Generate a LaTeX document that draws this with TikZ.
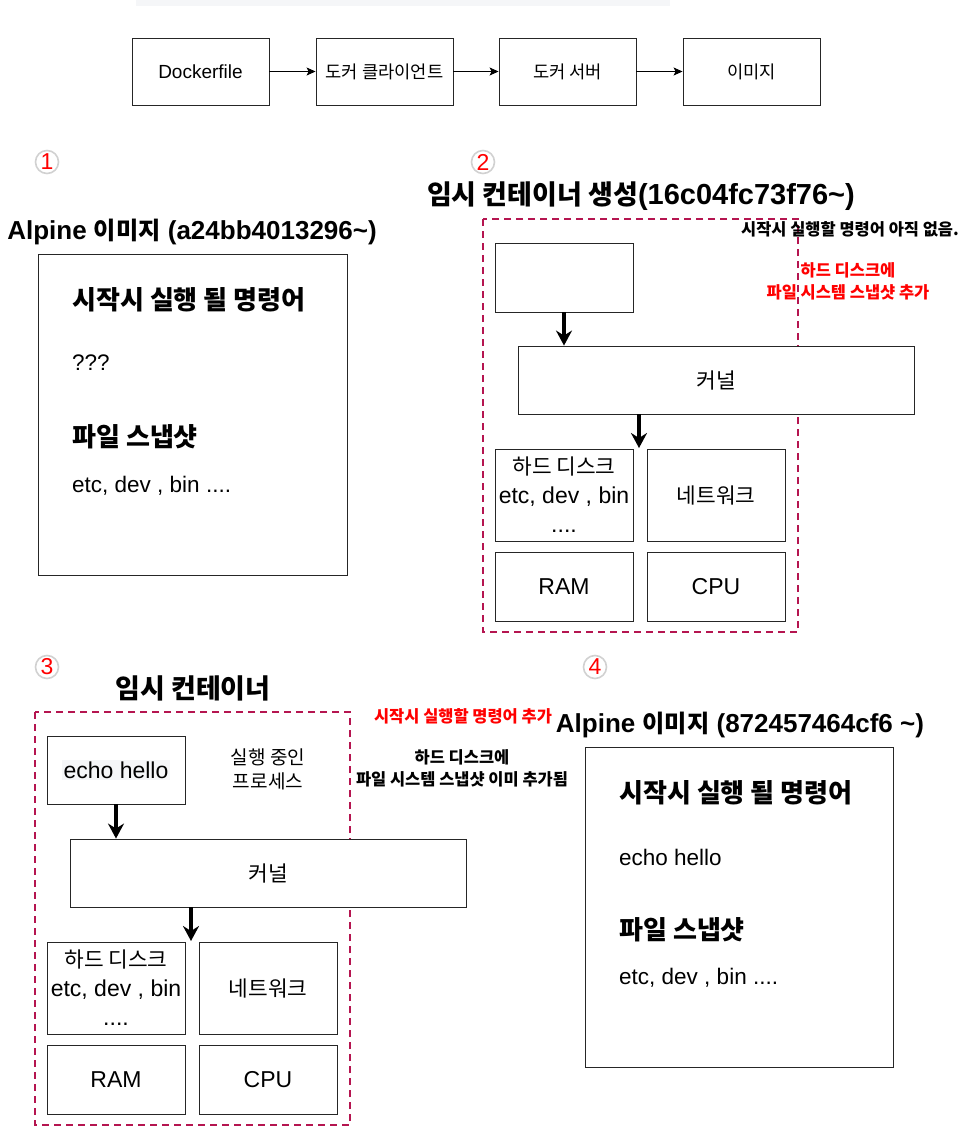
\documentclass[tikz,border=0pt]{standalone}
\usepackage{fontspec}
\setmainfont{Liberation Sans}
\newfontfamily\krf{Noto Sans CJK KR}[Scale=0.93]
\newcommand\K[1]{{\krf #1}}
\newcommand\fz[2]{\fontsize{#1}{#2}\selectfont}
\usetikzlibrary{arrows.meta}
\definecolor{crim}{RGB}{181,21,80}
\definecolor{redt}{RGB}{255,0,0}
\definecolor{topbar}{RGB}{245,246,248}
\tikzset{
  bx/.style={draw=black!85, line width=0.9pt, fill=white, align=center, inner sep=0pt, font=\fz{23}{29}},
  topbx/.style={bx, minimum width=137pt, minimum height=67pt, font=\fz{19}{22}},
  smallbx/.style={bx, minimum width=138pt},
  dbx/.style={draw=crim, line width=1.6pt, dash pattern=on 7pt off 5pt},
  thk/.style={line width=3.2pt, -{Stealth[length=15pt,width=16pt,inset=5pt]}},
  thn/.style={line width=1pt, -{Stealth[length=9pt,width=8pt,inset=2pt]}},
  num/.style={circle, draw=black!18, line width=1.6pt, minimum size=23pt, inner sep=0pt, text=redt, font=\fz{23}{24}},
  ttl/.style={inner sep=0pt, font=\bfseries\fz{26}{30}},
  bigttl/.style={inner sep=0pt, font=\bfseries\fz{29}{32}},
  hd/.style={anchor=west, inner sep=0pt, font=\bfseries\fz{28}{32}},
  bd/.style={anchor=west, inner sep=0pt, font=\fz{22.5}{26}},
  note/.style={inner sep=0pt, align=center, font=\bfseries\fz{17.7}{22}},
}
\begin{document}
\begin{tikzpicture}[x=1pt,y=-1pt]
\useasboundingbox (0,0) rectangle (961,1135);
\fill[white] (0,0) rectangle (961,1135);
\fill[topbar] (136,0) rectangle (670,6);

% top pipeline
\node[topbx] (df) at (200.5,71.5) {Dockerfile};
\node[topbx] (cl) at (384.5,71.5) {\K{도커 클라이언트}};
\node[topbx] (sv) at (567.5,71.5) {\K{도커 서버}};
\node[topbx] (im) at (751.5,71.5) {\K{이미지}};
\draw[thn] (df) -- (cl);
\draw[thn] (cl) -- (sv);
\draw[thn] (sv) -- (im);

% circled numbers
\node[num] (n1) at (47,162) {1};
\node[num] (n2) at (483,162) {2};
\node[num] (n3) at (47,667) {3};
\node[num] (n4) at (595,667) {4};

% panel 1
\node[ttl] (t1) at (192,232) {Alpine \K{이미지} (a24bb4013296\textasciitilde)};
\node[bx, minimum width=309pt, minimum height=321pt] (p1) at (192.5,414.5) {};
\node[hd] (p1a) at (72,300) {\K{시작시 실행 될 명령어}};
\node[bd] (p1b) at (72,363) {???};
\node[hd] (p1c) at (72,437) {\K{파일 스냅샷}};
\node[bd] (p1d) at (72,486) {etc, dev , bin ....};

% panel 2
\node[bigttl] (t2) at (641,196) {\K{임시 컨테이너 생성}(16c04fc73f76\textasciitilde)};
\draw[dbx] (483,219) rectangle (798,632);
\node[smallbx, minimum height=69pt] (e2) at (564,277.5) {};
\node[bx, minimum width=396pt, minimum height=68pt] (k2) at (716,380) {\K{커널}};
\node[smallbx, minimum height=92pt] (d2) at (564,495) {\K{하드 디스크}\\etc, dev , bin\\....};
\node[smallbx, minimum height=92pt] (w2) at (716,495) {\K{네트워크}};
\node[smallbx, minimum height=69pt] (r2) at (564,586.5) {RAM};
\node[smallbx, minimum height=69pt] (c2) at (716,586.5) {CPU};
\coordinate (a2) at (639,448);
\draw[thk] (e2.south) -- (e2.south |- k2.north);
\draw[thk] (k2.south -| a2) -- (a2);
\node[note] (n2a) at (850,229) {\K{시작시 실행할 명령어 아직 없음.}};
\node[note, text=redt] (n2b) at (848,281.5) {\K{하드 디스크에}\\\K{파일 시스템 스냅샷 추가}};

% panel 3
\node[bigttl] (t3) at (193,688) {\K{임시 컨테이너}};
\draw[dbx] (35,712) rectangle (350,1125);
\node[smallbx, minimum height=68pt] (e3) at (116,770) {};
\node[fill=topbar, inner sep=2pt, font=\fz{23}{26}] (e3t) at (e3.center) {echo hello};
\node[inner sep=0pt, align=center, font=\fz{20.5}{23.5}] (pr3) at (268,769.5) {\K{실행 중인}\\\K{프로세스}};
\node[bx, minimum width=396pt, minimum height=68pt] (k3) at (268,873) {\K{커널}};
\node[smallbx, minimum height=92pt] (d3) at (116,988) {\K{하드 디스크}\\etc, dev , bin\\....};
\node[smallbx, minimum height=92pt] (w3) at (268,988) {\K{네트워크}};
\node[smallbx, minimum height=69pt] (r3) at (116,1079.5) {RAM};
\node[smallbx, minimum height=69pt] (c3) at (268,1079.5) {CPU};
\coordinate (a3) at (191,941);
\draw[thk] (e3.south) -- (e3.south |- k3.north);
\draw[thk] (k3.south -| a3) -- (a3);
\node[note, text=redt] (n3a) at (463,716) {\K{시작시 실행할 명령어 추가}};
\node[note] (n3b) at (462,768) {\K{하드 디스크에}\\\K{파일 시스템 스냅샷 이미 추가됨}};

% panel 4
\node[ttl] (t4) at (740,725) {Alpine \K{이미지} (872457464cf6 \textasciitilde)};
\node[bx, minimum width=308pt, minimum height=320pt] (p4) at (739,907) {};
\node[hd] (p4a) at (619,793) {\K{시작시 실행 될 명령어}};
\node[bd] (p4b) at (619,857) {echo hello};
\node[hd] (p4c) at (619,930) {\K{파일 스냅샷}};
\node[bd] (p4d) at (619,978) {etc, dev , bin ....};
\end{tikzpicture}
\end{document}
